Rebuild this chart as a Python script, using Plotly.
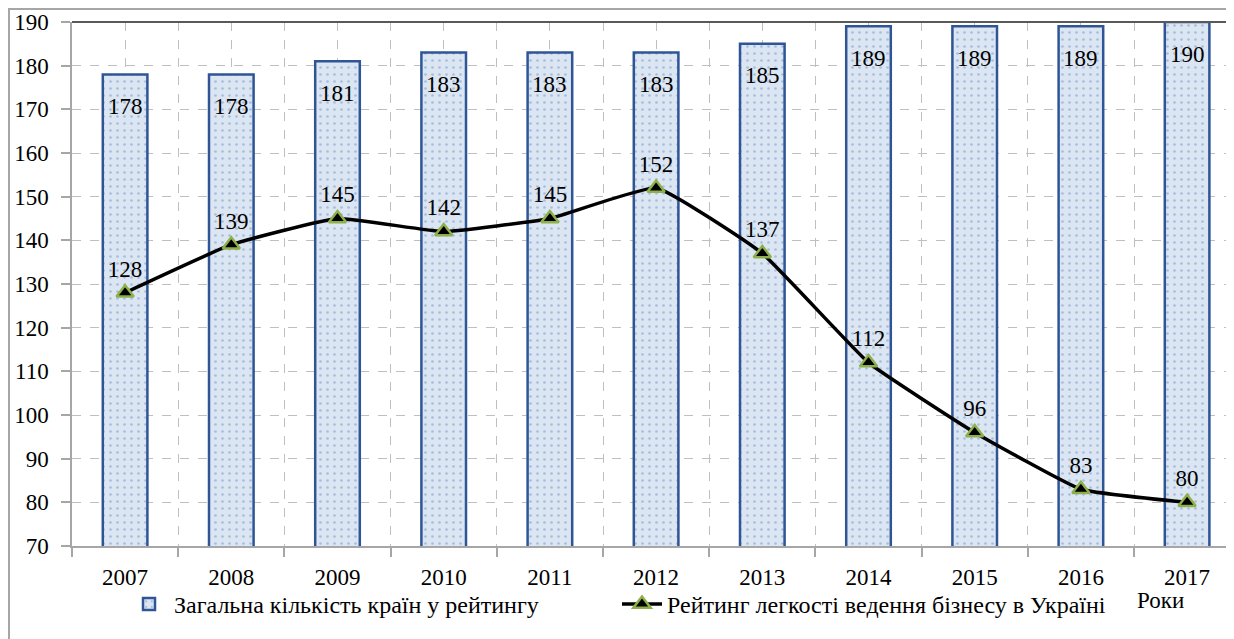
import plotly.graph_objects as go

years = ["2007", "2008", "2009", "2010", "2011", "2012", "2013", "2014", "2015", "2016", "2017"]
total_countries = [178, 178, 181, 183, 183, 183, 185, 189, 189, 189, 190]
ukraine_rank = [128, 139, 145, 142, 145, 152, 137, 112, 96, 83, 80]
y_ticks = [70, 80, 90, 100, 110, 120, 130, 140, 150, 160, 170, 180, 190]

bar_name = "Загальна кількість країн у рейтингу"
line_name = "Рейтинг легкості ведення бізнесу в Україні"
x_title = "Роки"

FONT = "Liberation Serif"
FS = 23
xpos = list(range(len(years)))

# page is offset by the 8px body margin
L, T, PH = 64, 14, 524
PW = 1234 - L

fig = go.Figure()
fig.add_trace(go.Bar(
    x=xpos, y=total_countries, name=bar_name, width=0.42,
    marker=dict(color="#dce6f2",
                line=dict(color="#2f5597", width=2.5),
                pattern=dict(shape=".", fgcolor="#6d93cc", bgcolor="#dce6f2",
                             size=7, solidity=0.12)),
))
fig.add_trace(go.Scatter(
    x=xpos, y=ukraine_rank, name=line_name, mode="lines+markers+text",
    line=dict(color="black", width=3.5, shape="spline", smoothing=0.35),
    marker=dict(symbol="triangle-up", size=15, color="black",
                line=dict(color="#8db04a", width=2.5)),
    text=[str(v) for v in ukraine_rank], textposition="top center",
    textfont=dict(family=FONT, size=FS, color="black"),
))

for xi, v in zip(xpos, total_countries):
    fig.add_annotation(x=xi, y=v, text=str(v), showarrow=False, yshift=-32,
                       font=dict(family=FONT, size=FS, color="black"))

fig.add_annotation(xref="paper", yref="paper", x=(1160 - 8 - L) / PW, y=-(600 - 546) / PH,
                   text=x_title, showarrow=False, xanchor="center", yanchor="middle",
                   font=dict(family=FONT, size=FS, color="black"))

# plot-area top border and outer chart frame
fig.add_shape(type="line", xref="paper", yref="paper", x0=0, x1=1, y0=1, y1=1,
              line=dict(color="#595959", width=2))
fig.add_shape(type="rect", xref="paper", yref="paper",
              x0=-(L - 1) / PW, x1=1.2, y0=-0.5, y1=1 + (T - 1) / PH,
              line=dict(color="#a6a6a6", width=2), fillcolor="rgba(0,0,0,0)", layer="below")

fig.update_layout(
    width=1234, height=639,
    margin=dict(l=L, r=0, t=T, b=639 - T - PH),
    paper_bgcolor="white", plot_bgcolor="white",
    font=dict(family=FONT, size=FS, color="black"),
    showlegend=True,
    legend=dict(orientation="h", x=(124 - 8 - L) / PW, xanchor="left",
                y=-(582 - 546) / PH, yanchor="top", bgcolor="rgba(0,0,0,0)",
                font=dict(family=FONT, size=24, color="black"),
                itemwidth=40, tracegroupgap=0,
                entrywidth=438, entrywidthmode="pixels"),
    xaxis=dict(range=[-0.5, -0.5 + PW / 106.2], tickvals=xpos, ticktext=years,
               showgrid=True, gridcolor="#bfbfbf", griddash="dash", gridwidth=1,
               ticks="", showline=True, linecolor="#a6a6a6", linewidth=1.5,
               zeroline=False, ticklabelstandoff=10,
               tickfont=dict(family=FONT, size=FS, color="black"),
               minor=dict(tickvals=[i - 0.5 for i in range(len(years) + 1)],
                          showgrid=True, gridcolor="#bfbfbf", griddash="dash",
                          ticks="outside", ticklen=9, tickcolor="#a6a6a6", tickwidth=1.5)),
    yaxis=dict(range=[70, 190], tickvals=y_ticks,
               showgrid=True, gridcolor="#bfbfbf", griddash="dash", gridwidth=1,
               ticks="outside", ticklen=9, tickcolor="#a6a6a6", tickwidth=1.5,
               showline=True, linecolor="#a6a6a6", linewidth=1.5, zeroline=False,
               ticklabelstandoff=8,
               tickfont=dict(family=FONT, size=FS, color="black")),
)

fig.write_html("out.html")
